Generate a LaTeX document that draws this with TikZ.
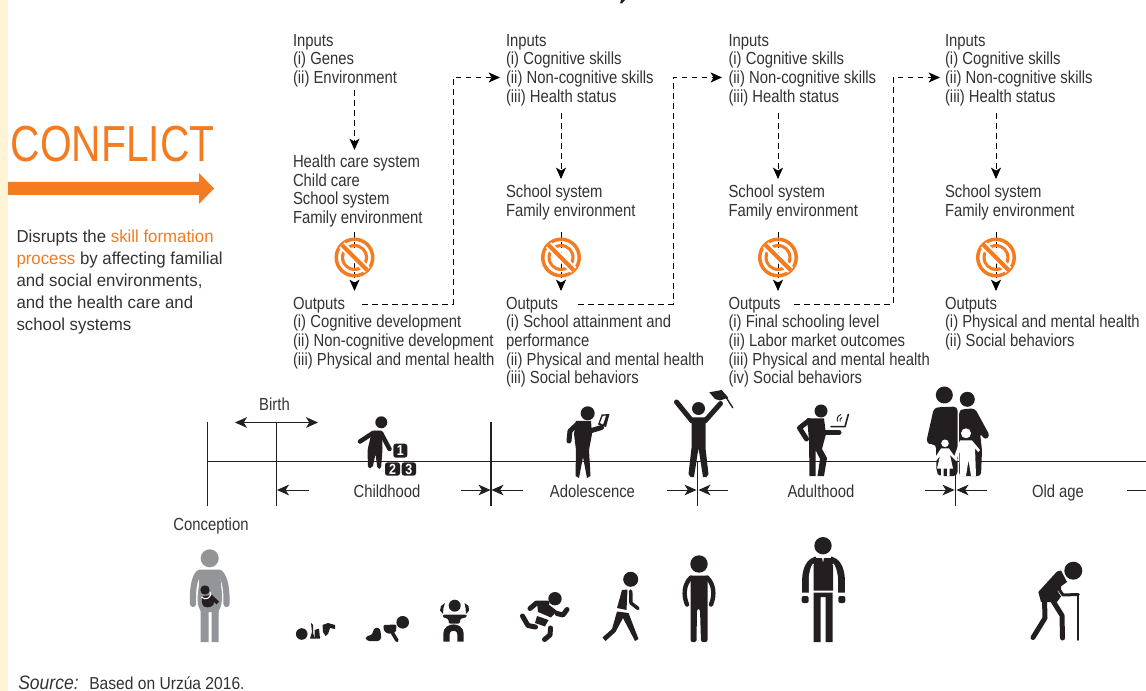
\documentclass[tikz,border=0pt]{standalone}
\usepackage{fontspec}
\usetikzlibrary{arrows.meta}
\setmainfont[FakeStretch=0.85]{Liberation Sans}
\newfontfamily\widefont[FakeStretch=0.97]{Liberation Sans}
\newfontfamily\srcfont[FakeStretch=0.9]{Liberation Sans}
\newfontfamily\conflictfont[FakeStretch=0.805]{Liberation Sans}
\definecolor{orng}{HTML}{F47B20}
\definecolor{cream}{HTML}{FFF5D6}
\definecolor{ink}{HTML}{231F20}
\definecolor{txt}{HTML}{333333}
\definecolor{preg}{HTML}{939598}
\tikzset{
 x=0.75pt,y=-0.75pt,
 txtb/.style={inner sep=0pt,outer sep=0pt,anchor=north west,align=left,font=\fontsize{13.1pt}{14pt}\selectfont,text=txt},
 lbl/.style={inner sep=0pt,anchor=base,font=\fontsize{13.1pt}{14pt}\selectfont,text=txt},
 dsh/.style={line width=0.7pt,black,dash pattern=on 4.2pt off 3.3pt},
 tipend/.style={-{Stealth[length=8.5pt,width=7.5pt,inset=2.2pt]}},
 tl/.style={line width=0.8pt,ink},
 limb/.style={draw=ink,line cap=round,line join=round,line width={#1*0.75pt}},
 blockn/.style={inner sep=0pt,text=white,font=\bfseries\fontsize{11pt}{11pt}\selectfont},
}
\newcommand{\banicon}[1]{%
 \begin{scope}[shift={#1}]
 \fill[orng,even odd rule] (0,0) circle[radius=20] (0,0) circle[radius=16.5];
 \fill[orng,even odd rule] (0,0) circle[radius=13.5] (0,0) circle[radius=10.5];
 \draw[white,line width=6pt] (-12.5,-12.5)--(12.5,12.5);
 \draw[orng,line width=3pt] (-12.5,-12.5)--(12.5,12.5);
 \end{scope}}
\begin{document}
\begin{tikzpicture}
\useasboundingbox (0,0) rectangle (1146,691);
\fill[white] (0,0) rectangle (1146,691);
\fill[cream] (0,0) rectangle (8,691);
% title remnant at the top edge
\fill[ink] (621,0)--(625,0)--(622,3.5)--(620,3.5)--cycle;
% left panel
\node[inner sep=0pt,anchor=base west,text=orng,font=\conflictfont\fontsize{38pt}{38pt}\selectfont] (conflict) at (10.5,161.5) {CONFLICT};
\fill[orng] (8,182)--(199,182)--(199,173)--(214,188.5)--(199,204)--(199,195)--(8,195)--cycle;
\node[txtb,font=\widefont\fontsize{13pt}{16.4pt}\selectfont] (dis) at (16.5,230) {Disrupts the \textcolor{orng}{skill formation}\\ \textcolor{orng}{process} by affecting familial\\ and social environments,\\ and the health care and\\ school systems};
% columns
\node[txtb] (in1) at (293,34) {Inputs\\(i) Genes\\(ii) Environment};
\node[txtb] (mid1) at (293,155) {Health care system\\Child care\\School system\\Family environment};
\node[txtb] (out1) at (293,297) {Outputs\\(i) Cognitive development\\(ii) Non-cognitive development\\(iii) Physical and mental health};
\node[txtb] (in2) at (506,34) {Inputs\\(i) Cognitive skills\\(ii) Non-cognitive skills\\(iii) Health status};
\node[txtb] (mid2) at (506,185) {School system\\Family environment};
\node[txtb] (out2) at (506,297) {Outputs\\(i) School attainment and\\performance\\(ii) Physical and mental health\\(iii) Social behaviors};
\node[txtb] (in3) at (728.5,34) {Inputs\\(i) Cognitive skills\\(ii) Non-cognitive skills\\(iii) Health status};
\node[txtb] (mid3) at (728.5,185) {School system\\Family environment};
\node[txtb] (out3) at (728.5,297) {Outputs\\(i) Final schooling level\\(ii) Labor market outcomes\\(iii) Physical and mental health\\(iv) Social behaviors};
\node[txtb] (in4) at (945,34) {Inputs\\(i) Cognitive skills\\(ii) Non-cognitive skills\\(iii) Health status};
\node[txtb] (mid4) at (945,185) {School system\\Family environment};
\node[txtb] (out4) at (945,297) {Outputs\\(i) Physical and mental health\\(ii) Social behaviors};
% free ends
\coordinate (a1) at (354.5,90); \coordinate (b1) at (354.5,150);
\coordinate (c1) at (354.5,232); \coordinate (d1) at (354.5,291);
\coordinate (a2) at (561,113); \coordinate (b2) at (561,179);
\coordinate (c2) at (561,232); \coordinate (d2) at (561,291);
\coordinate (a3) at (778,113); \coordinate (b3) at (778,179);
\coordinate (c3) at (778,232); \coordinate (d3) at (778,291);
\coordinate (a4) at (996,113); \coordinate (b4) at (996,179);
\coordinate (c4) at (996,232); \coordinate (d4) at (996,291);
\foreach \i in {1,2,3,4}{
 \draw[dsh,tipend] (a\i)--(b\i);
 \draw[dsh,tipend] (c\i)--(d\i);
}
\banicon{(354.5,257.5)}
\banicon{(561,257.5)}
\banicon{(778,257.5)}
\banicon{(996,257.5)}
% dashed links
\coordinate (e1) at (362,304); \coordinate (f1) at (453,304); \coordinate (g1) at (453,77.5); \coordinate (h1) at (500,77.5);
\coordinate (e2) at (578,304); \coordinate (f2) at (673,304); \coordinate (g2) at (673,77.5); \coordinate (h2) at (722,77.5);
\coordinate (e3) at (794,304); \coordinate (f3) at (893,304); \coordinate (g3) at (893,77.5); \coordinate (h3) at (940,77.5);
\foreach \i in {1,2,3}{
 \draw[dsh,tipend] (e\i)--(f\i)--(g\i)--(h\i);
}
% timeline
\coordinate (tl0) at (207,461.5); \coordinate (tl1) at (1146,461.5);
\draw[tl] (tl0)--(tl1);
\foreach \x in {207.5,276.5,491}{\draw[tl] (\x,422.5)--(\x,505.5);}
\draw[tl] (697.5,461)--(697.5,505.5);
\draw[tl] (955.5,461)--(955.5,505.5);
\node[lbl] (birth) at (274.5,410.5) {Birth};
\coordinate (bl) at (235,422.5); \coordinate (br) at (318,422.5);
\draw[line width=0.7pt,ink,{Stealth[length=9pt,width=8pt,inset=2.5pt]}-{Stealth[length=9pt,width=8pt,inset=2.5pt]}] (bl)--(br);
\node[lbl] (conc) at (211,530) {Conception};
\node[lbl] (child) at (387,497) {Childhood};
\node[lbl] (adol) at (592.5,497) {Adolescence};
\node[lbl] (adul) at (821,497) {Adulthood};
\node[lbl] (olda) at (1058,497) {Old age};
\tikzset{ph/.style={line width=0.7pt,ink,-{Stealth[length=9pt,width=8pt,inset=2.5pt]}}}
\foreach \a/\b in {309/277,461/490.5,523/491.5,667/696.5,728/698.5,925/954.5,987/956.5}{
 \draw[ph] (\a,490)--(\b,490);
}
\draw[line width=0.7pt,ink] (1127,490)--(1146,490);
% source
\node[inner sep=0pt,anchor=base west,text=txt,font=\srcfont\fontsize{13pt}{14pt}\selectfont] (src) at (18,689) {{\fontsize{14.6pt}{14pt}\selectfont\itshape Source:}\hspace{8pt}Based on Urzúa 2016.};
% ---- upper pictograms ----
% child with blocks
\fill[ink] (381.3,422.3) circle[radius=6];
\draw[limb=4.5] (360,441.5)--(373,433)--(381,433)--(389.5,449);
\fill[ink,rounded corners=1.5pt] (372,431)--(382,431)--(382.5,450)--(381,469)--(377.5,469)--(375.5,454)--(372.5,468)--(368,468)--(367.5,450)--cycle;
\fill[ink,rounded corners=2pt] (393.3,443.7) rectangle (407.3,457.7);
\fill[ink,rounded corners=2pt] (385,462.3) rectangle (400,475.7);
\fill[ink,rounded corners=2pt] (401.7,462.3) rectangle (416,475.7);
\node[blockn] (n1) at (400.3,450.7) {1};
\node[blockn] (n2) at (392.5,469) {2};
\node[blockn] (n3) at (408.8,469) {3};
% adolescent reading
\fill[ink] (587.7,413.3) circle[radius=7];
\draw[limb=5] (569,441)--(570,431)--(578,423.5);
\draw[limb=5] (590,431)--(601.5,427.5);
\fill[ink] (576,421)--(591,421)--(592,434)--(589,450)--(590.5,476)--(587,478)--(583,457)--(579,478)--(575.5,476)--(576,450)--(574,434)--cycle;
\fill[ink] (598,424.5)--(601.7,414.5)--(609.5,414)--(606,427)--cycle;
\fill[white] (600,423)--(602.8,416)--(606,415.5)--(603,424.5)--cycle;
% graduate
\fill[ink] (698.5,408.5) circle[radius=6.5];
\draw[limb=5] (676.5,402)--(692,421);
\draw[limb=5] (720.5,403.5)--(705,421);
\fill[ink] (691.5,417.5)--(705.5,417.5)--(705.5,448)--(708.5,474)--(706.5,477)--(703,477)--(698.5,448)--(694,477)--(690.5,477)--(688.5,474)--(691.5,448)--cycle;
\fill[ink] (709.3,392.3)--(721.7,390)--(728.3,397.7)--(720,400.5)--(715,399)--cycle;
\draw[limb=1.4] (726.7,398.3)--(732.7,407.7);
% adult with laptop
\fill[ink] (821,411) circle[radius=6.5];
\draw[limb=5] (809,420.5)--(799.5,428)--(806.5,439);
\draw[limb=5] (824,432.5)--(839,432.5);
\fill[ink] (807,418.5)--(824,418.5)--(826,434)--(822,449)--(827,458)--(824,476)--(817.5,476)--(820,459)--(815.5,450)--(815.5,476)--(809.5,476)--(809,440)--cycle;
\draw[limb=1.6] (831,426.7)--(845,426.7)--(848.3,414.5);
\draw[ink,line width=0.7pt] (837.5,421.5) .. controls (836.5,418) and (838,415.5) .. (841,414.5);
\draw[ink,line width=0.7pt] (840,421.5) .. controls (839.5,419.5) and (840.5,418) .. (842,417.5);
% family
\fill[ink] (944.3,395) circle[radius=8.5];
\fill[ink] (967.3,399.3) circle[radius=7.5];
\fill[ink,rounded corners=3pt] (934,407.5)--(957.5,406.5)--(957.5,476)--(940,476)--(936.5,473)--(936,444)--(932,444.5)--(926,443)--cycle;
\fill[ink,rounded corners=2.5pt] (959,411)--(963,409)--(975,408.5)--(990,436)--(985,440)--(980,433)--(982,450)--(981,476)--(959,476)--cycle;
\fill[white] (966,433.3) circle[radius=5];
\fill[white] (960,440.5)--(972,440.5)--(980,450)--(978,452)--(975,448)--(976,476)--(971,476)--(968.5,460)--(966,476)--(960,476)--(959.5,452)--(956.5,459)--(954,457)--cycle;
\fill[white] (945,443.3) circle[radius=3.8];
\fill[white] (941,448.5)--(949,448.5)--(955,457)--(958,460)--(956,461)--(950,455)--(953,468.5)--(949.5,468.5)--(949.5,476)--(947,476)--(947,468.5)--(943.5,468.5)--(943.5,476)--(941,476)--(941,468.5)--(937,468.5)--(940,456)--(936,461)--(934,459)--cycle;
% ---- lower row ----
% pregnant woman
\fill[preg] (209.7,558.3) circle[radius=9];
\draw[preg,line width=4.6pt,line cap=round] (199,573) .. controls (194,578) and (192.5,590) .. (193,604);
\draw[preg,line width=4.6pt,line cap=round] (220,573) .. controls (225,578) and (227,590) .. (226.5,604);
\fill[preg] (199,569.5)--(220,569.5)--(221,585) .. controls (223,597) and (222,606) .. (218.5,611)--(218.5,642)--(211.5,642)--(211.5,612)--(208.5,612)--(208.5,642)--(200.5,642)--(200.5,611) .. controls (197,606) and (197,597) .. (199,585)--cycle;
\fill[ink] (205,590) circle[radius=4.7];
\fill[ink] (203,596)--(212,595)--(219,601.5)--(216.5,604.5)--(214,602) .. controls (215,606) and (208,609) .. (204,606.5) .. controls (201.5,604) and (201,600) .. (203,596)--cycle;
\draw[white,line width=0.8pt] (201.5,597) .. controls (205,601) and (212,598) .. (210.5,592);
% baby lying
\fill[ink] (301.7,634) circle[radius=5.8];
\fill[ink] (311,623)--(313,625)--(313,633)--(315,638.5)--(310,638.5)--(312,632)--cycle;
\fill[ink] (314.5,630)--(319,628.5)--(320,638.5)--(314.5,638.5)--cycle;
\fill[ink] (323,632)--(322.5,625)--(328,623)--(335,625)--(335,629)--(330,628)--(328,634)--(325.5,636)--cycle;
% crawling
\fill[ink] (402.7,622.3) circle[radius=6.3];
\fill[ink,rounded corners=1pt] (383.3,625)--(396.5,624.5)--(396,632)--(388.3,634)--(384,631)--cycle;
\fill[ink,rounded corners=2.5pt] (379,627)--(381,632)--(381,641)--(366,641)--(365.5,636)--(373,635)--(373,628.5)--cycle;
\draw[limb=3.5] (392.5,633)--(397,640.5);
% toddler
\fill[ink] (454.7,605.7) circle[radius=6];
\fill[ink] (445,603)--(441,606)--(440,610.5)--(443,614)--(443.5,608)--cycle;
\fill[ink] (464.5,603)--(468.5,606)--(469,610.5)--(466,614)--(465.5,608)--cycle;
\fill[ink,rounded corners=1pt] (443,614.5)--(466.5,614.5)--(467,617)--(460,619)--(460,623.5)--(448.5,623.5)--(448.5,619)--(442.5,617)--cycle;
\draw[ink,line width=4.8pt] (446.5,641.5)--(446.5,634) .. controls (446.5,625.5) and (460.5,625.5) .. (460.5,634)--(460.5,641.5);
% running child
\fill[ink] (555,598.7) circle[radius=6.7];
\draw[limb=5] (530,608.5)--(536.5,603)--(547,603);
\draw[limb=5] (557,613.5)--(563,615)--(567,609.5);
\fill[ink] (537,603)--(548,604)--(557,611)--(551,617.5)--(538,612)--cycle;
\fill[ink] (537,616)--(548.5,620)--(545,626.5)--(535,623)--cycle;
\draw[limb=5] (522.5,616)--(528,625.5)--(535.5,627);
\draw[limb=5] (550.5,628)--(550,635)--(544.5,639.5);
% walking teen
\fill[ink] (630.7,579.3) circle[radius=7.5];
\fill[ink] (622,590)--(627.5,589.5)--(626.5,610)--(617,608)--cycle;
\draw[limb=3.5] (630.7,591)--(631,603)--(638,608.5);
\fill[ink] (617,611.5)--(628.5,613)--(638.5,639)--(635,641)--(623,618)--(615.5,632)--(605.5,641)--(602.5,637.5)--(612,629)--cycle;
% tall teen
\fill[ink] (699,564) circle[radius=8.7];
\fill[ink,rounded corners=1.5pt] (690.5,575.5)--(707.5,575.5)--(707.5,642)--(701,642)--(700,609)--(697,609)--(696.5,642)--(690.5,642)--cycle;
\draw[limb=4.4] (691,577.5) .. controls (684,584) and (683,595) .. (687,604.5);
\draw[limb=4.4] (707,577.5) .. controls (714,584) and (715,595) .. (711,604.5);
% adult
\fill[ink] (823,545.7) circle[radius=8.7];
\fill[ink] (813.5,558)--(822,558)--(823,563)--(824,558)--(833,558)--(833,590.7)--(813.5,590.7)--cycle;
\fill[ink] (813.5,592.7)--(832.5,592.7)--(832.5,642)--(825.5,642)--(825.5,597)--(820.5,597)--(820.5,642)--(813.5,642)--cycle;
\draw[ink,line width=5.2pt] (805.5,592.5)--(805.5,580) .. controls (806,568) and (810,561.5) .. (817,559.5);
\draw[ink,line width=5.2pt] (841.5,592.5)--(841.5,580) .. controls (841,568) and (837,561.5) .. (830,559.5);
\draw[white,line width=1pt] (809.5,592)--(809.5,578) .. controls (810,570) and (812,566) .. (813.5,564);
\draw[white,line width=1pt] (837,592)--(837,578) .. controls (836.5,570) and (834.5,566) .. (833,564);
\fill[ink,rounded corners=1.5pt] (801.7,596) rectangle (808.7,603);
\fill[ink,rounded corners=1.5pt] (838.3,596) rectangle (845.3,603);
% old man
\fill[ink] (1073.3,570.7) circle[radius=9];
\fill[ink] (1057,571.5)--(1061,570.5)--(1067,582)--(1060,587)--(1057.5,591)--(1061,596.5)--(1057,602)--(1041,602)--(1038.3,592)--cycle;
\draw[limb=3] (1060.5,573)--(1059.5,590)--(1063,595)--(1078.3,594.5);
\draw[limb=1.8] (1078.3,595)--(1078.3,640);
\draw[limb=5] (1044.5,600)--(1045,618)--(1033,637.5);
\draw[limb=5] (1053,601)--(1062,615.5)--(1062.5,638);
\end{tikzpicture}
\end{document}
